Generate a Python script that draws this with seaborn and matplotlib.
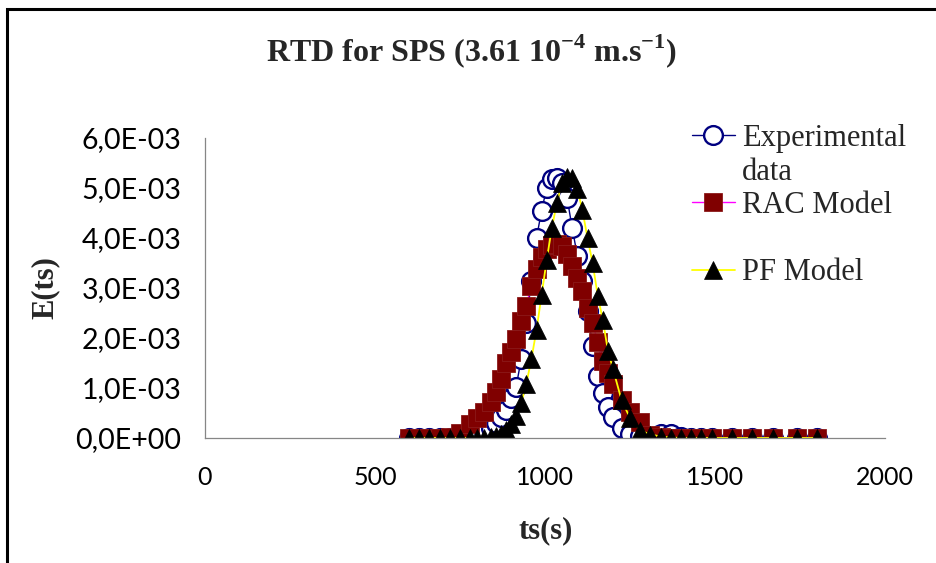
import numpy as np
import pandas as pd
import matplotlib
matplotlib.use("Agg")
import matplotlib.pyplot as plt
import seaborn as sns
from matplotlib.patches import Rectangle
from matplotlib.lines import Line2D

# ---- data (E values in units of 1e-3) ----
time_s = [600, 630, 660, 690, 720, 750, 780, 800, 820, 840,
          855, 870, 885, 900, 915, 930, 945, 960, 975, 990,
          1005, 1020, 1035, 1050, 1065, 1080, 1095, 1110, 1125, 1140,
          1155, 1170, 1185, 1200, 1225, 1250, 1280, 1310, 1340, 1370,
          1400, 1430, 1460, 1490, 1550, 1610, 1670, 1740, 1800]

exp_data_e3 = [0, 0, 0, 0, 0, 0, 0.03, 0.08, 0.14, 0.21,
               0.30, 0.43, 0.56, 0.80, 1.02, 1.58, 2.30, 3.15, 4.00, 4.55,
               5.00, 5.18, 5.20, 5.10, 4.80, 4.20, 3.65, 3.15, 2.55, 1.85,
               1.25, 0.90, 0.62, 0.42, 0.20, 0.08, 0.04, 0.02, 0.08, 0.08,
               0.03, 0.01, 0.01, 0, 0, 0, 0, 0, 0]

rac_model_e3 = [0, 0, 0, 0.01, 0.03, 0.10, 0.28, 0.40, 0.52, 0.72,
                0.92, 1.18, 1.50, 1.72, 1.98, 2.35, 2.65, 3.05, 3.38, 3.62,
                3.78, 3.86, 3.88, 3.84, 3.68, 3.45, 3.20, 2.95, 2.60, 2.30,
                1.92, 1.55, 1.30, 1.08, 0.76, 0.52, 0.32, 0.06, 0.02, 0,
                0, 0, 0, 0, 0, 0, 0, 0, 0]

pf_model_e3 = [0, 0, 0, 0, 0, 0, 0, 0, 0.01, 0.02,
               0.04, 0.08, 0.16, 0.28, 0.45, 0.70, 1.08, 1.58, 2.16, 2.86,
               3.56, 4.20, 4.70, 5.10, 5.22, 5.20, 4.98, 4.56, 4.00, 3.50,
               2.85, 2.36, 1.75, 1.38, 0.76, 0.40, 0.15, 0.07, 0.03, 0.01,
               0, 0, 0, 0, 0, 0, 0, 0, 0]

series_labels = ["Experimental\ndata", "RAC Model", "PF Model"]
x_ticks = [0, 500, 1000, 1500, 2000]
y_ticks = [0, 1e-3, 2e-3, 3e-3, 4e-3, 5e-3, 6e-3]
y_tick_labels = ["0,0E+00", "1,0E-03", "2,0E-03", "3,0E-03",
                 "4,0E-03", "5,0E-03", "6,0E-03"]

df = pd.DataFrame({
    "ts": time_s,
    "exp": np.array(exp_data_e3) * 1e-3,
    "rac": np.array(rac_model_e3) * 1e-3,
    "pf": np.array(pf_model_e3) * 1e-3,
})

sns.set_theme(style="white")
plt.rcParams["font.family"] = ["Lato", "DejaVu Sans"]
plt.rcParams["mathtext.fontset"] = "custom"
plt.rcParams["mathtext.rm"] = "Liberation Serif:bold"
plt.rcParams["mathtext.bf"] = "Liberation Serif:bold"

W, H = 936, 563
fig = plt.figure(figsize=(W / 100, H / 100), dpi=100)
ax = fig.add_axes([205 / W, 1 - 438 / H, 680 / W, 300 / H])

sns.lineplot(data=df, x="ts", y="exp", ax=ax, color="#000080", linewidth=1.0,
             marker="o", markersize=13.5, markerfacecolor="white",
             markeredgecolor="#000080", markeredgewidth=1.7, errorbar=None,
             label=series_labels[0])
sns.lineplot(data=df, x="ts", y="rac", ax=ax, color="#FF00FF", linewidth=1.0,
             marker="s", markersize=12.5, markerfacecolor="#800000",
             markeredgecolor="#8B1A1A", markeredgewidth=0.6, errorbar=None,
             label=series_labels[1])
sns.lineplot(data=df, x="ts", y="pf", ax=ax, color="#FFFF00", linewidth=1.3,
             marker="^", markersize=12.5, markerfacecolor="black",
             markeredgecolor="black", markeredgewidth=0.5, errorbar=None,
             label=series_labels[2])

ax.set_xlim(0, 2000)
ax.set_ylim(0, 6e-3)
ax.set_xticks(x_ticks)
ax.set_xticklabels([str(t) for t in x_ticks])
ax.set_yticks(y_ticks)
ax.set_yticklabels(y_tick_labels)

for side in ["top", "right"]:
    ax.spines[side].set_visible(False)
for side in ["left", "bottom"]:
    ax.spines[side].set_color("#868686")
    ax.spines[side].set_linewidth(0.9)

ax.tick_params(axis="both", which="major", direction="out", length=7,
               width=0.9, color="#868686", labelcolor="black")
ax.tick_params(axis="x", pad=13, labelsize=18)
ax.tick_params(axis="y", pad=10, labelsize=20.5)
ax.grid(False)

serif_bold = dict(family="Liberation Serif", weight="bold", size=22)
ax.set_xlabel("ts(s)", fontdict=serif_bold)
ax.set_ylabel("E(ts)", fontdict=serif_bold)
ax.xaxis.label.set_verticalalignment("center")
ax.yaxis.label.set_verticalalignment("center")
ax.xaxis.set_label_coords((546 - 205) / 680, (438 - 531) / 300)
ax.yaxis.set_label_coords((45 - 205) / 680, (438 - 288) / 300)

fig.text(471 / W, 1 - 51 / H,
         r"RTD for SPS (3.61 10$^{-4}$ m.s$^{-1}$)",
         ha="center", va="center", family="Liberation Serif",
         weight="bold", size=23)

# legend
lines = ax.get_lines()
blank = Line2D([], [], linestyle="none", marker=None)
handles = [lines[0], blank, lines[1], blank, lines[2]]
labels = ["Experimental", "data", "RAC Model", " ", "PF Model"]
if ax.get_legend() is not None:
    ax.get_legend().remove()
leg = fig.legend(handles, labels, loc="upper left",
                 bbox_to_anchor=(692 / W, 1 - 124 / H),
                 bbox_transform=fig.transFigure, frameon=False,
                 prop=dict(family="Liberation Serif", size=22),
                 handlelength=1.4, handletextpad=0.23, labelspacing=0.15,
                 borderpad=0, borderaxespad=0, numpoints=1)

# chart border (partly cropped on right / bottom)
fig.add_artist(Rectangle((7 / W, -0.2), 1.2, 1.2 - 9 / H,
                         transform=fig.transFigure, fill=False,
                         edgecolor="black", linewidth=2.2))

fig.savefig("out.png", dpi=100)
